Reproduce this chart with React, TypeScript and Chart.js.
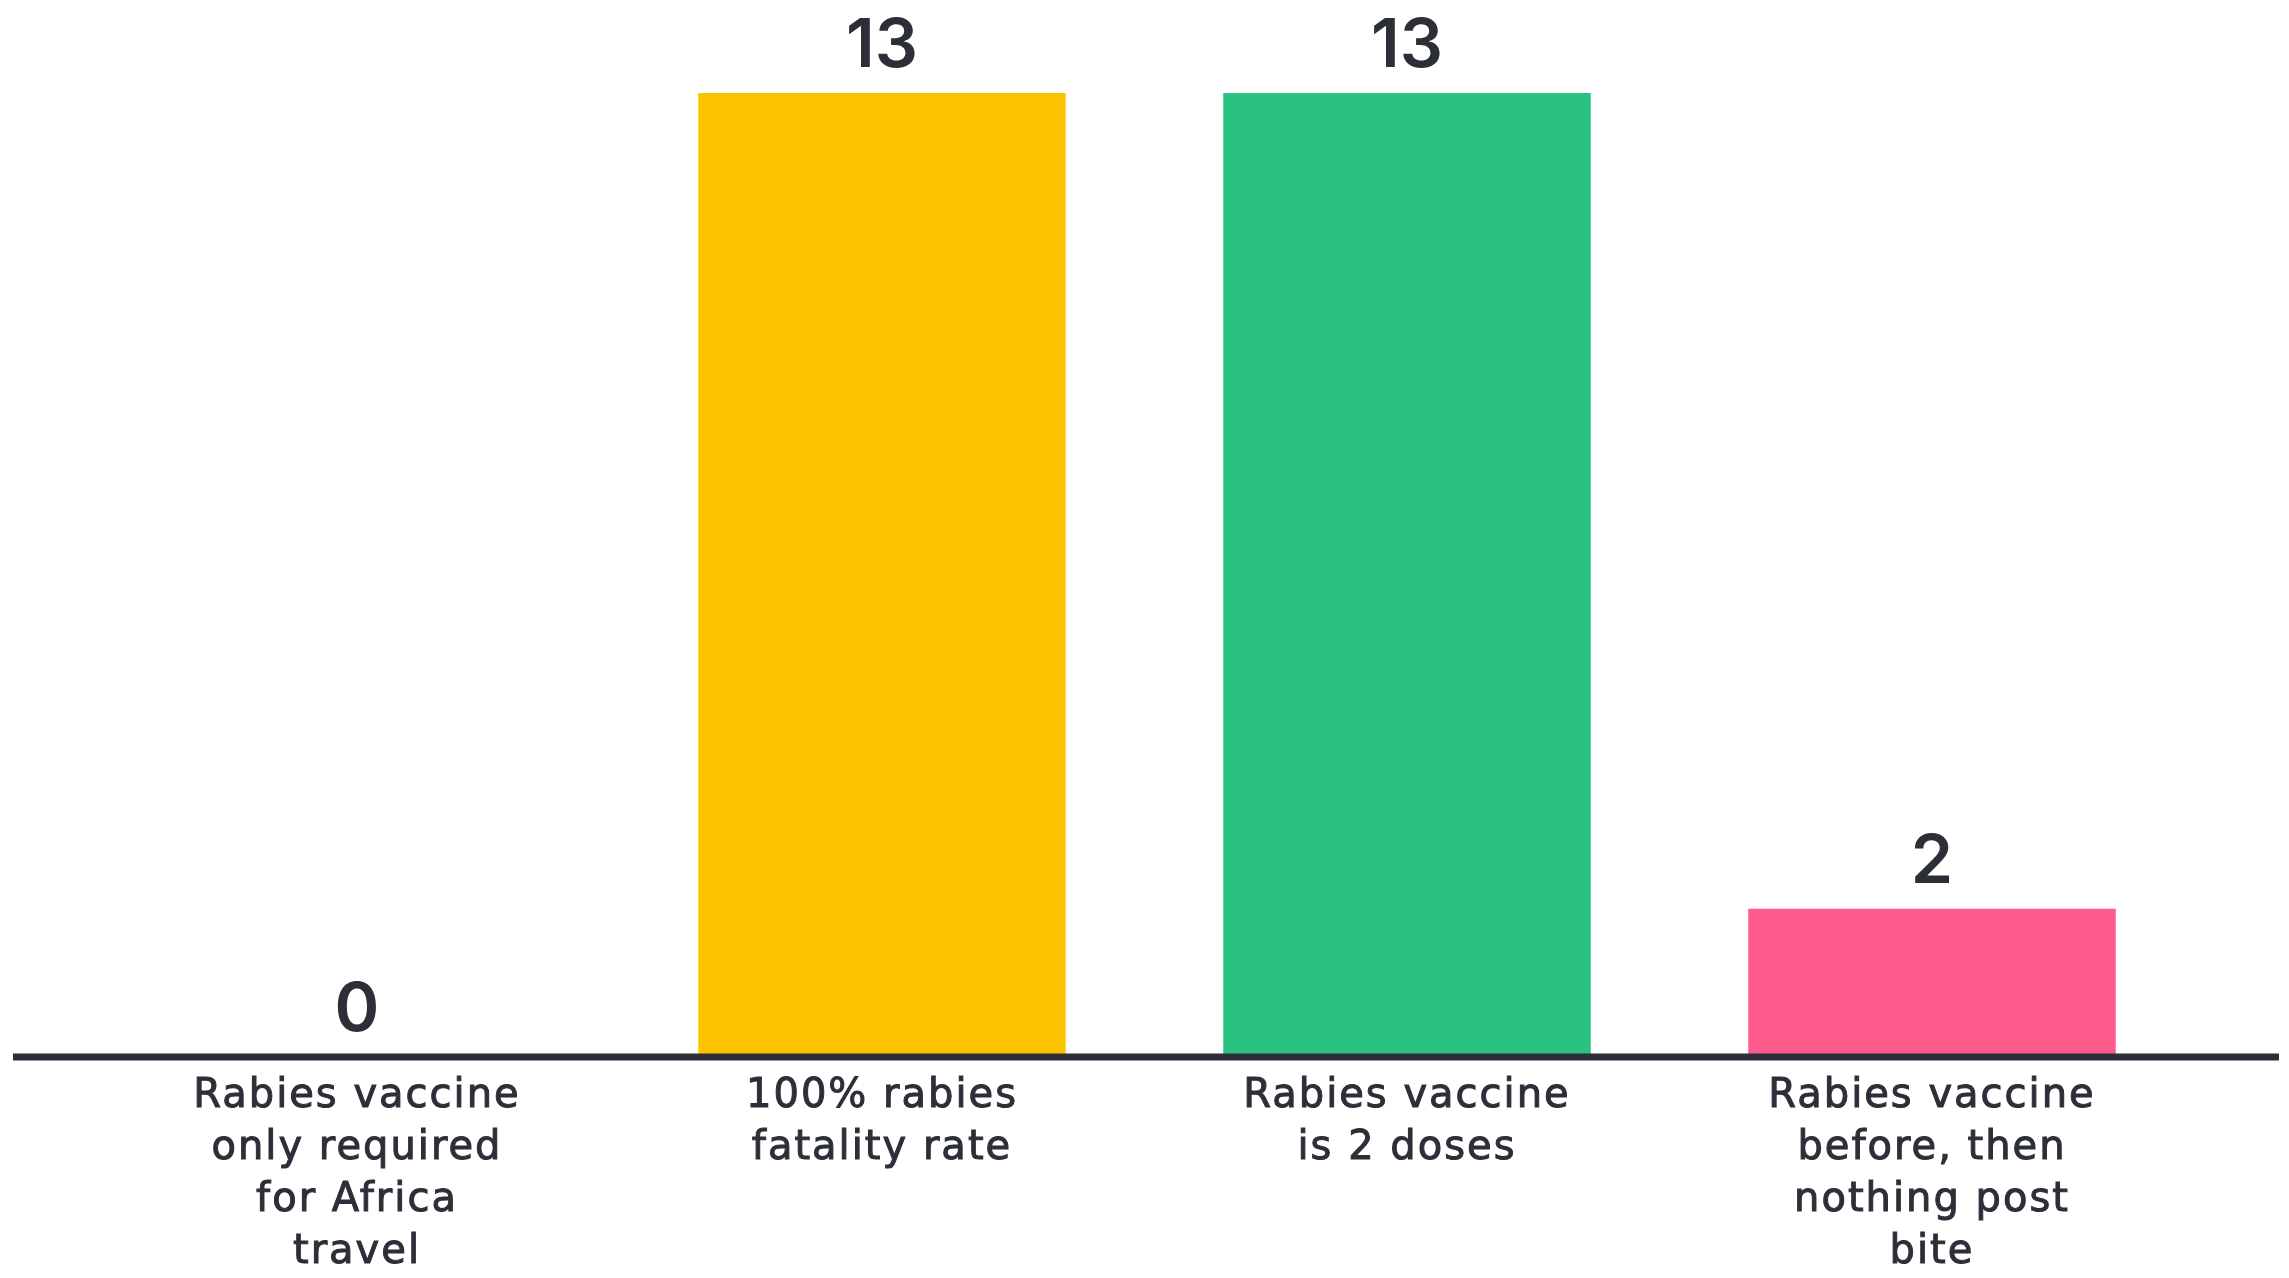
import React, { useEffect, useRef } from "react";
import Chart from "chart.js/auto";

// Answers given in the rabies quiz and how many people picked each one
const categories: string[][] = [
  ["Rabies vaccine", "only required", "for Africa", "travel"],
  ["100% rabies", "fatality rate"],
  ["Rabies vaccine", "is 2 doses"],
  ["Rabies vaccine", "before, then", "nothing post", "bite"],
];
const votes: number[] = [0, 13, 13, 2];
const barColors: string[] = ["#FCC400", "#FCC400", "#29C27F", "#FF5A8C"];

const TEXT = "#2C2F38";
const W = 2289;
const H = 1278;

// Slightly open tracking for the category captions
const tracking = {
  id: "tracking",
  beforeDraw(chart: any) {
    chart.ctx.letterSpacing = "2px";
  },
  afterDraw(chart: any) {
    chart.ctx.letterSpacing = "0px";
  },
};

// Baseline across the whole width plus the count above every bar
const annotate = {
  id: "annotate",
  afterDatasetsDraw(chart: any) {
    const { ctx } = chart;
    const y = chart.scales.y.getPixelForValue(0);
    ctx.save();
    ctx.letterSpacing = "0px";
    ctx.strokeStyle = TEXT;
    ctx.lineWidth = 7;
    ctx.lineCap = "butt";
    ctx.beginPath();
    ctx.moveTo(13, y);
    ctx.lineTo(W - 10, y);
    ctx.stroke();

    const meta = chart.getDatasetMeta(0);
    ctx.fillStyle = TEXT;
    ctx.font = "600 68px Inter";
    ctx.textAlign = "center";
    ctx.textBaseline = "alphabetic";
    meta.data.forEach((bar: any, i: number) => {
      ctx.fillText(String(votes[i]), bar.x, bar.y - 26);
    });
    ctx.restore();
  },
};

export default function App() {
  const ref = useRef<HTMLCanvasElement>(null);

  useEffect(() => {
    if (!ref.current) return;
    const chart = new Chart(ref.current, {
      type: "bar",
      data: {
        labels: categories,
        datasets: [
          {
            data: votes,
            backgroundColor: barColors,
            borderWidth: 0,
            categoryPercentage: 1,
            barPercentage: 0.7,
          },
        ],
      },
      options: {
        responsive: false,
        animation: false,
        layout: { padding: { left: 94.5, right: 94.5, top: 93, bottom: 0 } },
        plugins: {
          legend: { display: false },
          tooltip: { enabled: false },
        },
        scales: {
          x: {
            grid: { display: false, drawTicks: false },
            border: { display: false },
            ticks: {
              autoSkip: false,
              maxRotation: 0,
              padding: 14,
              color: TEXT,
              textStrokeColor: TEXT,
              textStrokeWidth: 1,
              font: { family: "'DejaVu Sans'", size: 40, lineHeight: "52px" },
            },
            afterFit(scale: any) {
              scale.height = 221;
            },
          },
          y: {
            display: false,
            min: 0,
            max: 13,
          },
        },
      },
      plugins: [tracking, annotate],
    });
    return () => chart.destroy();
  }, []);

  return (
    <div style={{ position: "fixed", left: 0, top: 0, width: W, height: H, background: "#fff" }}>
      <canvas ref={ref} width={W} height={H} style={{ display: "block" }} />
    </div>
  );
}
